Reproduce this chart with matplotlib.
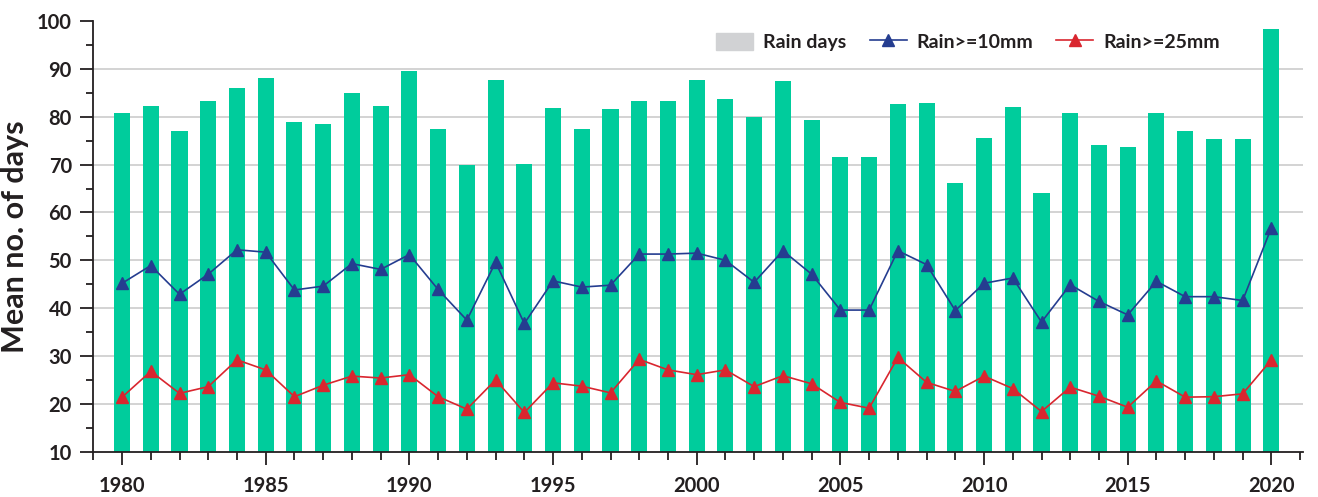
import numpy as np
import matplotlib
matplotlib.use('Agg')
import matplotlib.pyplot as plt
from matplotlib.ticker import MultipleLocator
from matplotlib.patches import Patch
from matplotlib.lines import Line2D

plt.rcParams['font.family'] = ['Lato', 'DejaVu Sans']
plt.rcParams['font.weight'] = 'bold'

# Données
years = list(range(1980, 2021))
rain_days = [80.8, 82.3, 77.1, 83.3, 86.1, 88.1, 78.9, 78.5, 85.0, 82.3,
             89.6, 77.5, 70.0, 87.7, 70.2, 81.9, 77.5, 81.7, 83.3, 83.3,
             87.7, 83.8, 80.0, 87.5, 79.4, 71.6, 71.6, 82.7, 82.9, 66.2,
             75.6, 82.1, 64.1, 80.8, 74.1, 73.7, 80.8, 77.1, 75.4, 75.4,
             98.4]
rain_10mm = [45.2, 48.9, 42.9, 47.1, 52.2, 51.7, 43.8, 44.6, 49.3, 48.1,
             51.2, 43.9, 37.5, 49.6, 36.8, 45.7, 44.4, 44.8, 51.3, 51.3,
             51.5, 50.0, 45.4, 52.0, 47.1, 39.6, 39.6, 52.0, 49.1, 39.5,
             45.2, 46.3, 37.1, 44.9, 41.4, 38.6, 45.6, 42.4, 42.4, 41.6,
             56.8]
rain_25mm = [21.4, 26.8, 22.2, 23.6, 29.2, 27.1, 21.5, 23.9, 25.8, 25.4,
             26.1, 21.5, 18.9, 25.0, 18.2, 24.4, 23.7, 22.3, 29.3, 27.1,
             26.1, 27.1, 23.6, 25.9, 24.2, 20.3, 19.1, 29.7, 24.5, 22.6,
             25.8, 23.2, 18.4, 23.5, 21.6, 19.3, 24.8, 21.4, 21.5, 22.1,
             29.2]
labels = ['Rain days', 'Rain>=10mm', 'Rain>=25mm']

bar_color = '#00cc9c'
blue = '#253d90'
red = '#d9262f'
text_color = '#231f20'

fig = plt.figure(figsize=(13.18, 4.97), dpi=100)
ax = fig.add_axes([0.0708, 0.0911, 0.9178, 0.8666])

ax.bar(years, np.array(rain_days) - 10, bottom=10, width=0.56,
       color=bar_color, zorder=2)
ax.plot(years, rain_10mm, color=blue, lw=1.2, marker='^', ms=8, zorder=3)
ax.plot(years, rain_25mm, color=red, lw=1.2, marker='^', ms=8, zorder=3)

ax.set_ylim(10, 100)
ax.set_xlim(1979, 2021.1)
ax.yaxis.set_major_locator(MultipleLocator(10))
ax.yaxis.set_minor_locator(MultipleLocator(5))
ax.xaxis.set_major_locator(MultipleLocator(5))
ax.xaxis.set_minor_locator(MultipleLocator(1))

# grille horizontale (pas de ligne à 100)
for y in range(20, 100, 10):
    ax.axhline(y, color='#d3d3d3', lw=1.4, zorder=1)

for s in ['top', 'right']:
    ax.spines[s].set_visible(False)
for s in ['left', 'bottom']:
    ax.spines[s].set_color(text_color)
    ax.spines[s].set_linewidth(1.3)

ax.tick_params(axis='y', which='major', length=9.5, width=1.3, color=text_color,
               labelsize=14.5, labelcolor=text_color, pad=6)
ax.tick_params(axis='y', which='minor', length=5, width=1.3, color=text_color)
ax.tick_params(axis='x', which='major', length=9.5, width=1.3, color=text_color,
               labelsize=14.5, labelcolor=text_color, pad=8)
ax.tick_params(axis='x', which='minor', length=5.5, width=1.3, color=text_color)

ax.set_ylabel('Mean no. of days', fontsize=22, fontweight='bold',
              color=text_color, labelpad=6)

handles = [Patch(color='#d1d2d4'),
           Line2D([], [], color=blue, lw=1.2, marker='^', ms=8),
           Line2D([], [], color=red, lw=1.2, marker='^', ms=8)]
fig.legend(handles, labels, loc='center', bbox_to_anchor=(0.7345, 0.9155),
           ncol=3, frameon=False, fontsize=14, handlelength=1.9,
           handleheight=1.0, handletextpad=0.5, columnspacing=1.2,
           labelcolor=text_color)

fig.savefig('out.png', dpi=100)
